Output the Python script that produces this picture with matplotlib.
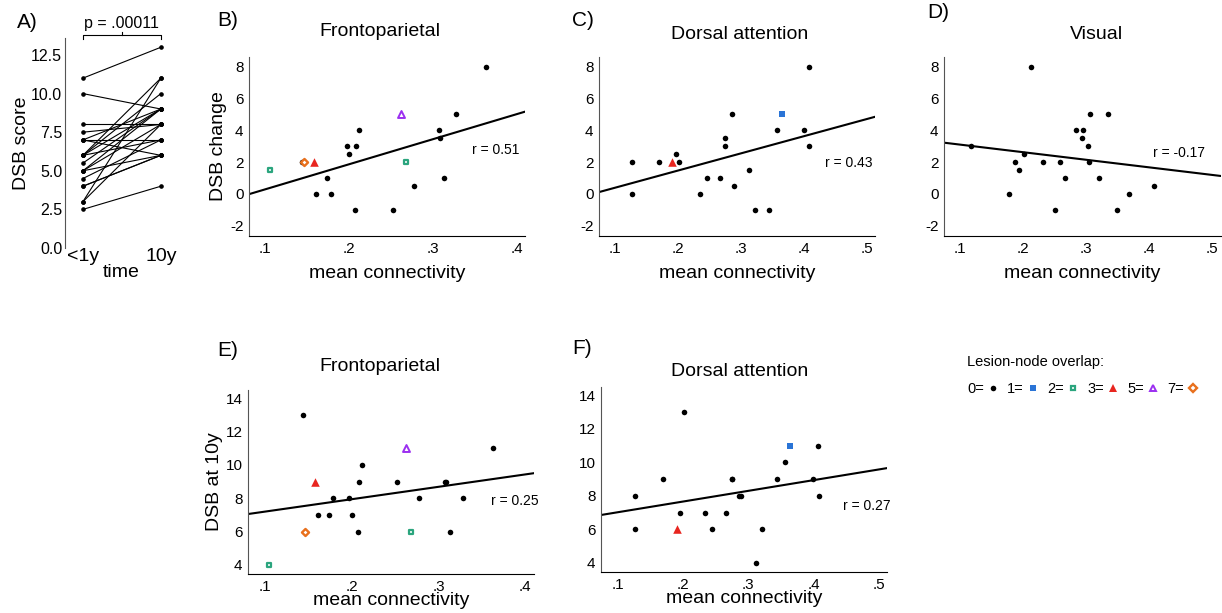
import numpy as np
import matplotlib
matplotlib.use("Agg")
import matplotlib.pyplot as plt
from matplotlib.lines import Line2D

plt.rcParams['font.family'] = ['Liberation Sans', 'DejaVu Sans']
plt.rcParams['axes.unicode_minus'] = False

# one entry per child (21)
dsb_base = [2.5, 11, 4, 7, 7, 6, 8, 5, 4.5, 6, 7, 6, 10, 6, 4, 7.5, 5, 5.5, 5, 3, 3]
dsb_10y = [4, 13, 6, 9, 7, 7, 8, 8, 7, 9, 6, 10, 9, 11, 6, 8, 9, 9, 6, 8, 11]
fp_conn = [0.105, 0.144, 0.146, 0.158, 0.161, 0.174, 0.178, 0.197, 0.200, 0.208, 0.207,
           0.212, 0.252, 0.262, 0.268, 0.277, 0.307, 0.309, 0.313, 0.328, 0.363]
fp_overlap = [2, 0, 7, 3, 0, 0, 0, 0, 0, 0, 0, 0, 0, 5, 2, 0, 0, 0, 0, 0, 0]
da_conn = [0.312, 0.202, 0.127, 0.169, 0.234, 0.266, 0.127, 0.408, 0.196, 0.275, 0.321,
           0.356, 0.344, 0.364, 0.190, 0.288, 0.399, 0.275, 0.245, 0.285, 0.407]
da_overlap = [0, 0, 0, 0, 0, 0, 0, 0, 0, 0, 0, 0, 0, 1, 3, 0, 0, 0, 0, 0, 0]

# visual network panel
vis_conn = [0.117, 0.178, 0.188, 0.193, 0.202, 0.213, 0.231, 0.258, 0.251, 0.267, 0.284,
            0.295, 0.294, 0.303, 0.304, 0.307, 0.320, 0.335, 0.349, 0.368, 0.407]
vis_change = [3, 0, 2, 1.5, 2.5, 8, 2, 2, -1, 1, 4, 4, 3.5, 3, 2, 5, 1, 5, -1, 0, 0.5]

r_values = {'B': '0.51', 'C': '0.43', 'D': '-0.17', 'E': '0.25', 'F': '0.27'}
p_label = 'p = .00011'

dsb_base = np.array(dsb_base)
dsb_10y = np.array(dsb_10y)
dsb_change = dsb_10y - dsb_base

styles = {
    0: dict(marker='o', s=16, c='black', linewidths=0),
    1: dict(marker='s', s=21, c='#2a74d6', linewidths=0),
    2: dict(marker='s', s=12, facecolors='white', edgecolors='#2ba57e', linewidths=1.6),
    3: dict(marker='^', s=38, c='#e8251f', linewidths=0),
    5: dict(marker='^', s=25, facecolors='white', edgecolors='#9b2ff0', linewidths=1.4),
    7: dict(marker='D', s=13, facecolors='white', edgecolors='#e8701d', linewidths=1.7),
}

TICK = 11
LAB = 14

W, H = 1222, 613
fig = plt.figure(figsize=(W / 100, H / 100), dpi=100)


def box(l, t, r, b):
    return [l / W, 1 - b / H, (r - l) / W, (b - t) / H]


def style_axes(ax):
    ax.spines['top'].set_visible(False)
    ax.spines['right'].set_visible(False)
    ax.spines['left'].set_color('#555555')
    ax.tick_params(length=0, labelsize=TICK, pad=4)


def scatter_panel(ax, x, y, groups, xlim, ylim, yticks, r, title, tx, ty, rx, ry):
    x = np.array(x)
    y = np.array(y)
    groups = np.array(groups)
    slope, icpt = np.polyfit(x, y, 1)
    xs = np.array(xlim)
    ax.plot(xs, slope * xs + icpt, color='black', lw=1.5, zorder=1)
    for g in [0, 1, 2, 3, 5, 7]:
        m = groups == g
        if m.any():
            ax.scatter(x[m], y[m], zorder=3, **styles[g])
    ax.set_xlim(xlim)
    ax.set_ylim(ylim)
    xt = [0.1, 0.2, 0.3, 0.4, 0.5] if xlim[1] > 0.5 else [0.1, 0.2, 0.3, 0.4]
    ax.set_xticks(xt)
    ax.set_xticklabels(['.%d' % round(v * 10) for v in xt])
    ax.set_yticks(yticks)
    ax.set_yticklabels([str(v) for v in yticks])
    style_axes(ax)
    ax.text(rx, ry, 'r = ' + r, transform=ax.transAxes, fontsize=10, va='center')
    ax.text(tx, ty, title, transform=ax.transAxes, fontsize=14, ha='center', va='center')


# A) paired plot
axA = fig.add_axes(box(65, 38, 178, 248))
for b, t in zip(dsb_base, dsb_10y):
    axA.plot([0, 1], [b, t], color='black', lw=0.8, marker='o', ms=2.3)
axA.set_xlim(-0.23, 1.22)
axA.set_ylim(0, 13.6)
axA.set_yticks([0, 2.5, 5, 7.5, 10, 12.5])
axA.set_yticklabels(['0.0', '2.5', '5.0', '7.5', '10.0', '12.5'])
axA.set_xticks([0, 1])
axA.set_xticklabels(['<1y', '10y'])
style_axes(axA)
axA.spines['bottom'].set_visible(False)
axA.tick_params(axis='x', labelsize=14, pad=0)
axA.tick_params(axis='y', labelsize=11.5, pad=2)
axA.set_ylabel('DSB score', fontsize=LAB, labelpad=1)
axA.set_xlabel('time', fontsize=LAB, labelpad=-1)
axA.plot([0, 0, 1, 1], [13.53, 13.8, 13.8, 13.53], color='black', lw=0.8, clip_on=False)
axA.plot([0.5, 0.5], [13.8, 14.02], color='black', lw=0.8, clip_on=False)
axA.text(0.5, 14.05, p_label, ha='center', va='bottom', fontsize=11.5)

# B) frontoparietal change
axB = fig.add_axes(box(249, 57, 525, 236))
scatter_panel(axB, fp_conn, dsb_change, fp_overlap, (0.0805, 0.41), (-2.65, 8.6),
              [-2, 0, 2, 4, 6, 8], r_values['B'], 'Frontoparietal', 0.475, 1.14, 0.808, 0.48)
axB.set_xlabel('mean connectivity', fontsize=LAB, labelpad=7)
axB.set_ylabel('DSB change', fontsize=LAB, labelpad=2)

# C) dorsal attention change
axC = fig.add_axes(box(599, 57, 875, 236))
scatter_panel(axC, da_conn, dsb_change, da_overlap, (0.0745, 0.512), (-2.65, 8.6),
              [-2, 0, 2, 4, 6, 8], r_values['C'], 'Dorsal attention', 0.51, 1.123, 0.819, 0.408)
axC.set_xlabel('mean connectivity', fontsize=LAB, labelpad=7)

# D) visual change
axD = fig.add_axes(box(944, 57, 1221, 236))
scatter_panel(axD, vis_conn, vis_change, [0] * len(vis_conn), (0.0747, 0.514), (-2.65, 8.6),
              [-2, 0, 2, 4, 6, 8], r_values['D'], 'Visual', 0.552, 1.123, 0.755, 0.464)
axD.set_xlabel('mean connectivity', fontsize=LAB, labelpad=7)

# E) frontoparietal at 10y
axE = fig.add_axes(box(248, 390, 534, 574))
scatter_panel(axE, fp_conn, dsb_10y, fp_overlap, (0.0805, 0.41), (3.45, 14.5),
              [4, 6, 8, 10, 12, 14], r_values['E'], 'Frontoparietal', 0.46, 1.127, 0.85, 0.397)
axE.set_xlabel('mean connectivity', fontsize=LAB, labelpad=-1)
axE.set_ylabel('DSB at 10y', fontsize=LAB, labelpad=2)

# F) dorsal attention at 10y
axF = fig.add_axes(box(601, 387, 887, 572))
scatter_panel(axF, da_conn, dsb_10y, da_overlap, (0.0745, 0.512), (3.45, 14.5),
              [4, 6, 8, 10, 12, 14], r_values['F'], 'Dorsal attention', 0.486, 1.083, 0.846, 0.357)
axF.set_xlabel('mean connectivity', fontsize=LAB, labelpad=-1)

# panel letters
for lab, px, py in [('A)', 17, 22), ('B)', 217, 21), ('C)', 572, 21), ('D)', 927, 12),
                    ('E)', 217, 350), ('F)', 572, 348)]:
    fig.text(px / W, 1 - py / H, lab, fontsize=15, va='center', ha='left')

# legend
handles = []
labels = []
for g in [0, 1, 2, 3, 5, 7]:
    st = styles[g]
    fc = st.get('c', st.get('facecolors'))
    ec = st.get('c', st.get('edgecolors'))
    handles.append(Line2D([], [], ls='none', marker=st['marker'], markersize=np.sqrt(st['s']),
                          markerfacecolor=fc, markeredgecolor=ec,
                          markeredgewidth=st['linewidths']))
    labels.append('%d=' % g)
fig.legend(handles, labels, loc='upper left', bbox_to_anchor=(967 / W, 1 - 355 / H),
           ncol=6, frameon=False, markerfirst=False, title='Lesion-node overlap:',
           alignment='left', fontsize=10.5, title_fontsize=10.5, handlelength=0.8,
           handletextpad=0.2, columnspacing=0.6, borderpad=0, borderaxespad=0,
           labelspacing=0.9)

fig.savefig('out.png', dpi=100)
